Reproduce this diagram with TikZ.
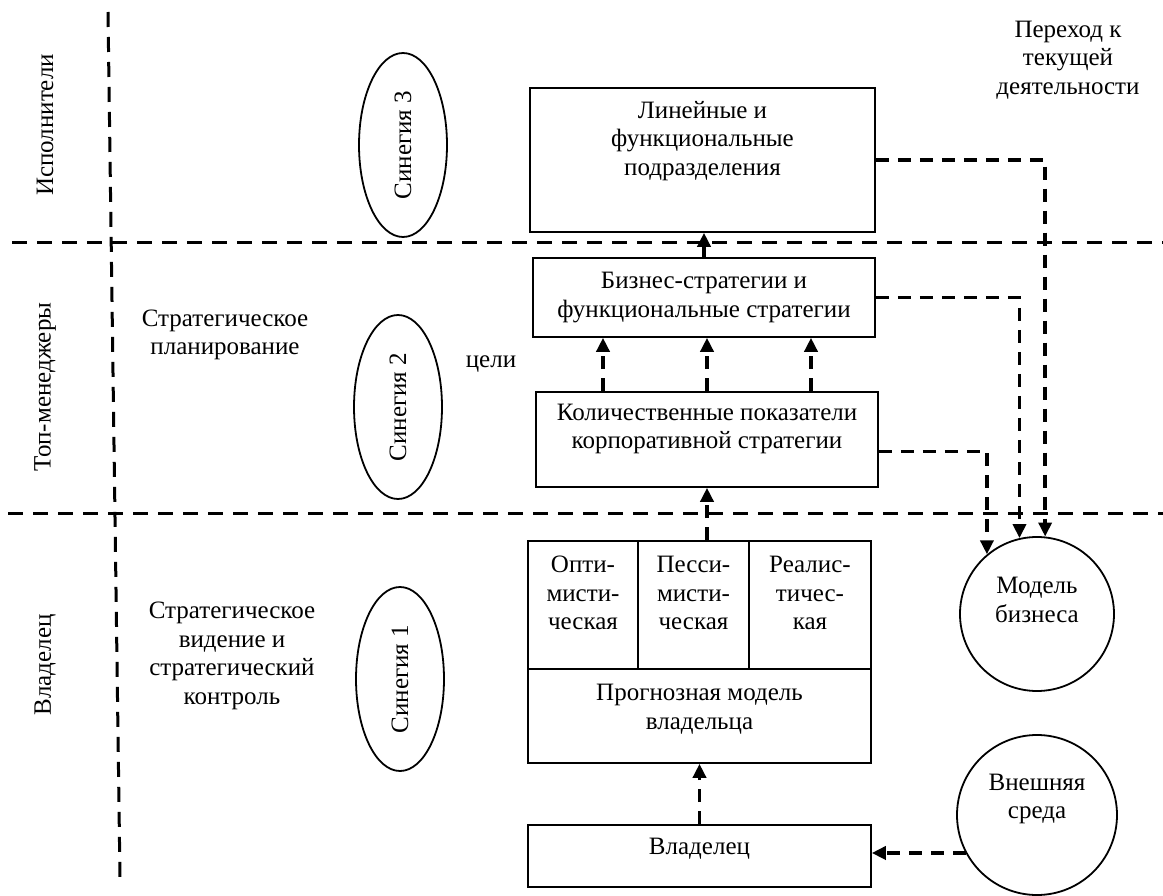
\documentclass[tikz,border=0pt]{standalone}
\usepackage{fontspec}
\setmainfont{Liberation Serif}
\usetikzlibrary{arrows.meta,shapes.geometric}
\tikzset{
  grens/.style={line width=3pt, dash pattern=on 15pt off 10pt},
  blokk/.style={draw, line width=1.6pt, inner sep=0pt},
  tekst/.style={align=center, inner sep=0pt, font=\fontsize{25}{28.5}\selectfont},
  sinegi/.style={draw, ellipse, line width=1.8pt, rotate=90, inner sep=0pt,
    minimum width=184pt, minimum height=88pt, font=\fontsize{25}{28.5}\selectfont},
  rund/.style={draw, circle, line width=1.8pt, inner sep=0pt},
  pil/.style={line width=3.8pt, dash pattern=on 13pt off 9pt,
    -{Triangle[length=14pt,width=13pt]}}
}
\begin{document}
\begin{tikzpicture}[x=1pt,y=-1pt]
    \clip (0,0) rectangle (1163,896);

    %Grenser
        \draw[grens] (108,12) -- (120,878);
        \draw[grens] (12,243) -- (1163,243);
        \draw[grens] (8,513) -- (1163,513);

    %Nivaa
        \node[tekst, rotate=90] (ispoln) at (45,125) {Исполнители};
        \node[tekst, rotate=90] (topm) at (45,387) {Топ-менеджеры};
        \node[tekst, rotate=90] (vladl) at (45,665) {Владелец};

        \node[tekst] (planir) at (225,335) {Стратегическое\\планирование};
        \node[tekst] (videnie) at (232,656) {Стратегическое\\видение и\\стратегический\\контроль};
        \node[tekst] (celi) at (491,364) {цели};
        \node[tekst] (perehod) at (1068,60) {Переход к\\текущей\\деятельности};

    %Sinergi
        \node[sinegi] (sin3) at (403,145) {Синегия 3};
        \node[sinegi] (sin2) at (398,407) {Синегия 2};
        \node[sinegi] (sin1) at (400,679) {Синегия 1};

    %Blokker
        \node[blokk, minimum width=345pt, minimum height=144pt] (lin) at (702.5,160) {};
        \node[tekst] (lintxt) at (702.5,141) {Линейные и\\функциональные\\подразделения};

        \node[blokk, minimum width=342pt, minimum height=79pt, tekst] (biz) at (704,297.5)
            {Бизнес-стратегии и\\функциональные стратегии};

        \node[blokk, minimum width=342pt, minimum height=95pt] (kol) at (707,439.5) {};
        \node[tekst] (koltxt) at (707,429) {Количественные показатели\\корпоративной стратегии};

        \node[blokk, minimum width=343pt, minimum height=222pt] (scen) at (699.5,652) {};
        \draw[line width=1.6pt] (528,669) -- (871,669);
        \draw[line width=1.6pt] (638,541) -- (638,669);
        \draw[line width=2.4pt] (749,541) -- (749,669);
        \node[tekst] (opt) at (583,593) {Опти-\\мисти-\\ческая};
        \node[tekst] (pes) at (693.5,593) {Песси-\\мисти-\\ческая};
        \node[tekst] (real) at (810,593) {Реалис-\\тичес-\\кая};
        \node[tekst] (prog) at (699.5,709) {Прогнозная модель\\владельца};

        \node[blokk, minimum width=343pt, minimum height=62pt] (vlad) at (699.5,856) {};
        \node[tekst] (vladtxt) at (699.5,849) {Владелец};

        \node[rund, minimum size=154pt] (model) at (1037,614) {};
        \node[tekst] (modeltxt) at (1037,600) {Модель\\бизнеса};
        \node[rund, minimum size=160pt] (ext) at (1037,815) {};
        \node[tekst] (exttxt) at (1037,799) {Внешняя\\среда};

    %Piler
        \draw[pil] (vlad.north) -- (vlad.north |- scen.south);
        \draw[pil] (scen.north -| kol.south) -- (kol.south);
        \foreach \dx in {-104,0,104}
            \draw[pil] ([xshift=\dx pt]kol.north) -- ([xshift=\dx pt]kol.north |- biz.south);
        \draw[pil] (biz.north) -- (biz.north |- lin.south);
        \draw[pil] (ext.208) -- (ext.208 -| vlad.east);
        \draw[pil] (lin.east) -| (model.84);
        \draw[pil] (biz.east) -| (model.103);
        \draw[pil] ([yshift=-12pt]kol.east) -| (model.130);
\end{tikzpicture}
\end{document}
